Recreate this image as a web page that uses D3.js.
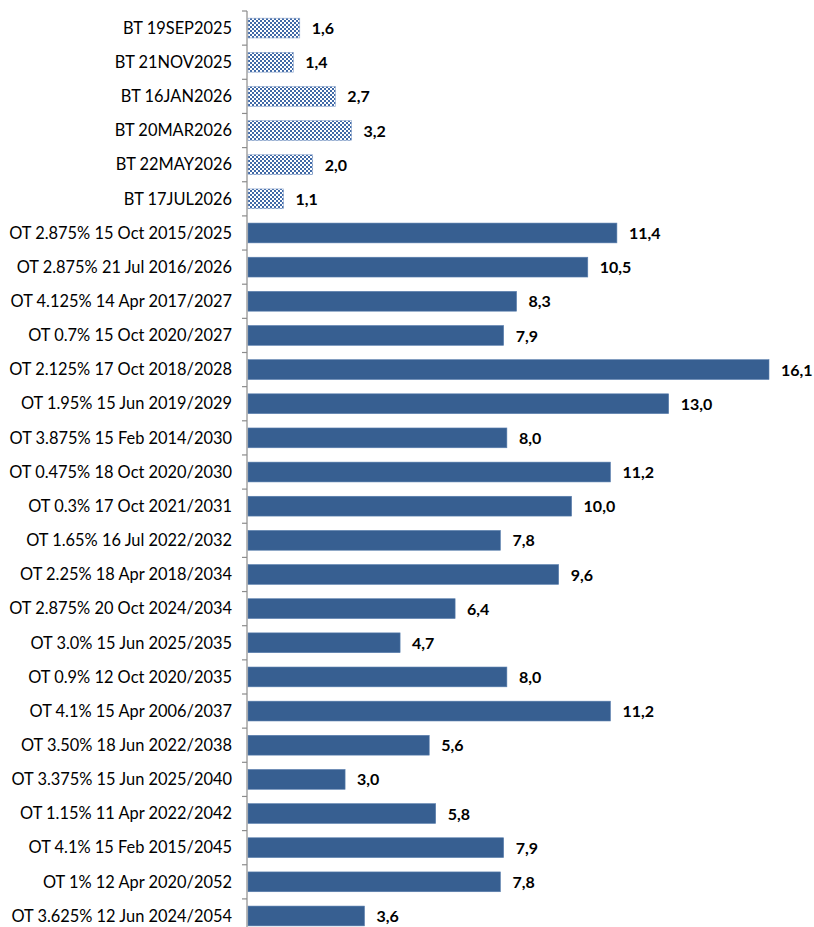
<!DOCTYPE html>
<html><head><meta charset="utf-8">
<script src="https://cdn.jsdelivr.net/npm/d3@7"></script>
<style>body{margin:0;background:#fff;} svg{display:block;}</style>
</head><body>
<script>
const categories = ["BT 19SEP2025","BT 21NOV2025","BT 16JAN2026","BT 20MAR2026","BT 22MAY2026","BT 17JUL2026",
"OT 2.875% 15 Oct 2015/2025","OT 2.875% 21 Jul 2016/2026","OT 4.125% 14 Apr 2017/2027","OT 0.7% 15 Oct 2020/2027",
"OT 2.125% 17 Oct 2018/2028","OT 1.95% 15 Jun 2019/2029","OT 3.875% 15 Feb 2014/2030","OT 0.475% 18 Oct 2020/2030",
"OT 0.3% 17 Oct 2021/2031","OT 1.65% 16 Jul 2022/2032","OT 2.25% 18 Apr 2018/2034","OT 2.875% 20 Oct 2024/2034",
"OT 3.0% 15 Jun 2025/2035","OT 0.9% 12 Oct 2020/2035","OT 4.1% 15 Apr 2006/2037","OT 3.50% 18 Jun 2022/2038",
"OT 3.375% 15 Jun 2025/2040","OT 1.15% 11 Apr 2022/2042","OT 4.1% 15 Feb 2015/2045","OT 1% 12 Apr 2020/2052",
"OT 3.625% 12 Jun 2024/2054"];
const values = [1.6,1.4,2.7,3.2,2.0,1.1,11.4,10.5,8.3,7.9,16.1,13.0,8.0,11.2,10.0,7.8,9.6,6.4,4.7,8.0,11.2,5.6,3.0,5.8,7.9,7.8,3.6];
const types = categories.map(c => c.startsWith("BT") ? "bill" : "bond");

const W = 814, H = 927;
const svg = d3.select("body").append("svg").attr("width", W).attr("height", H);
const defs = svg.append("defs");
const pat = defs.append("pattern").attr("id","checker").attr("patternUnits","userSpaceOnUse")
  .attr("width",4).attr("height",4);
pat.append("rect").attr("width",4).attr("height",4).attr("fill","#ffffff");
pat.append("rect").attr("x",0).attr("y",0).attr("width",2).attr("height",2).attr("fill","#4069a6");
pat.append("rect").attr("x",2).attr("y",2).attr("width",2).attr("height",2).attr("fill","#4069a6");

const x0 = 248;
const x = d3.scaleLinear().domain([0, 16.1]).range([x0, 769]);
const y = d3.scaleBand().domain(categories).range([11, 11 + 27*34.15]).paddingInner(0.42).paddingOuter(0.21);

const data = categories.map((c,i)=>({c, v: values[i], t: types[i]}));

svg.selectAll("rect.bar").data(data).join("rect").attr("class","bar")
  .attr("x", x(0)).attr("y", d => y(d.c)).attr("width", d => x(d.v) - x(0)).attr("height", y.bandwidth())
  .attr("fill", d => d.t === "bill" ? "url(#checker)" : "#375f91")
  .attr("stroke", d => d.t === "bill" ? "#8aa4cc" : "#5a7fae").attr("stroke-width", 0.6);

// axis
const axisG = svg.append("g").attr("transform", `translate(${x0-1},0)`);
axisG.append("line").attr("x1",0).attr("x2",0).attr("y1",y.range()[0]).attr("y2",y.range()[1])
  .attr("stroke","#8c8c8c").attr("stroke-width",1.2);
const step = y.step();
const bounds = d3.range(categories.length + 1).map(i => y.range()[0] + i*step);
axisG.selectAll("line.tick").data(bounds).join("line").attr("class","tick")
  .attr("x1",-5).attr("x2",0).attr("y1",d=>d).attr("y2",d=>d).attr("stroke","#8c8c8c").attr("stroke-width",1.2);

svg.selectAll("text.cat").data(data).join("text").attr("class","cat")
  .attr("x", 232).attr("y", d => y(d.c) + y.bandwidth()/2).attr("dy","0.35em")
  .attr("text-anchor","end").attr("font-family","Lato, 'Open Sans', sans-serif").attr("font-size",16.4)
  .attr("fill","#000").text(d => d.c);

const fmt = v => v.toFixed(1).replace(".", ",");
svg.selectAll("text.val").data(data).join("text").attr("class","val")
  .attr("x", d => x(d.v) + 12).attr("y", d => y(d.c) + y.bandwidth()/2).attr("dy","0.38em")
  .attr("font-family","Lato, 'Open Sans', sans-serif").attr("font-weight","bold").attr("font-size",16)
  .attr("fill","#000").text(d => fmt(d.v));
</script>
</body></html>
